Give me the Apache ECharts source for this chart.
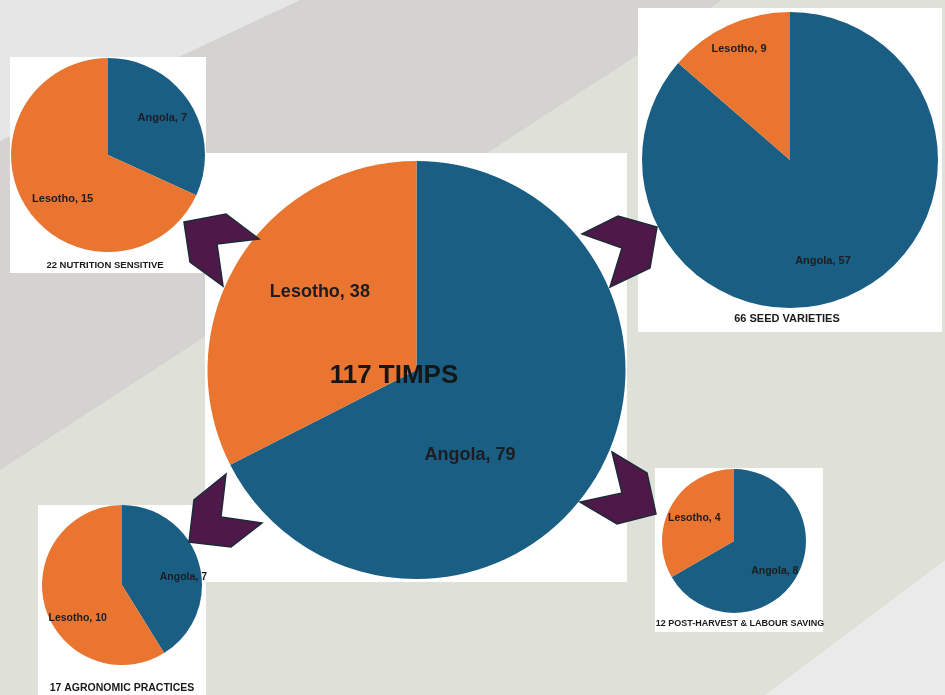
<!DOCTYPE html>
<html>
<head>
<meta charset="utf-8">
<script src="https://cdn.jsdelivr.net/npm/echarts@6/dist/echarts.min.js"></script>
<style>
html,body{margin:0;padding:0;background:#dfe0d8;}
#chart{width:945px;height:695px;}
</style>
</head>
<body>
<div id="chart"></div>
<script>
// ---- data ----
const categories = ['Angola', 'Lesotho'];
const pieTitles = ['117 TIMPS', '22 NUTRITION SENSITIVE', '66 SEED VARIETIES', '17 AGRONOMIC PRACTICES', '12 POST-HARVEST & LABOUR SAVING'];
const angolaValues = [79, 7, 57, 7, 8];
const lesothoValues = [38, 15, 9, 10, 4];

// ---- layout (positions / styles only) ----
const pieCenters = [[416.5, 370], [108, 155], [790, 160], [122, 585], [734, 541]];
const pieRadii = [209, 97, 148, 80, 72];
const labelSizes = [18, 11, 11, 10.5, 10.5];
const labelShift = [
  [[-38, 29], [-5, -22]],
  [[11, -9], [-2, 16]],
  [[1, 31], [-19, -41]],
  [[20, 4], [-3, 21]],
  [[7, 11], [-6, -3]]
];
const titlePos = [[394, 376], [105, 265], [787, 319], [122, 688], [740, 624]];
const titleSizes = [26, 9.5, 11, 10.5, 9];
const boxes = [[205, 153, 422, 429], [10, 57, 196, 216], [638, 8, 304, 324], [38, 505, 168, 190], [655, 468, 168, 164]];
const chevrons = [
  [[184, 222], [226, 214], [259, 239], [217, 244], [223, 286], [190, 262]],
  [[582, 234], [618, 216], [657, 227], [650, 268], [610, 287], [622, 248]],
  [[226, 474], [194, 500], [189, 542], [231, 547], [262, 523], [221, 517]],
  [[612, 452], [647, 473], [656, 514], [617, 524], [580, 502], [622, 493]]
];
const colors = ['#1a5f83', '#ea7531'];

const chart = echarts.init(document.getElementById('chart'), null, {renderer: 'canvas'});

const graphics = [
  {type: 'rect', shape: {x: 0, y: 0, width: 945, height: 695}, style: {fill: '#dfe0d8'}, z: 0, silent: true},
  {type: 'polygon', shape: {points: [[0, 0], [722, 0], [0, 470]]}, style: {fill: '#d4d3d1'}, z: 0, silent: true},
  {type: 'polygon', shape: {points: [[0, 0], [300, 0], [0, 141]]}, style: {fill: '#e6e6e6'}, z: 0, silent: true},
  {type: 'polygon', shape: {points: [[945, 560], [945, 695], [765, 695]]}, style: {fill: '#eaeaea'}, z: 0, silent: true}
];
boxes.forEach(b => graphics.push({type: 'rect', shape: {x: b[0], y: b[1], width: b[2], height: b[3]}, style: {fill: '#ffffff'}, z: 1, silent: true}));
chevrons.forEach(p => graphics.push({type: 'polygon', shape: {points: p}, style: {fill: '#4e1848', stroke: '#1d2a38', lineWidth: 1.5}, z: 10, silent: true}));
pieTitles.forEach((t, i) => graphics.push({
  type: 'text', x: titlePos[i][0], y: titlePos[i][1], z: 11, silent: true,
  style: {text: t, fill: i === 0 ? '#161616' : '#1a1a1a', font: 'bold ' + titleSizes[i] + 'px "Liberation Sans", Arial, sans-serif', textAlign: 'center', textVerticalAlign: 'middle'}
}));

const series = pieTitles.map((t, i) => ({
  type: 'pie',
  name: t,
  center: pieCenters[i],
  radius: [0, pieRadii[i]],
  startAngle: 90,
  clockwise: true,
  avoidLabelOverlap: false,
  animation: false,
  silent: true,
  z: 2,
  label: {
    show: true,
    position: 'inside',
    formatter: '{b}, {c}',
    color: '#1c1c22',
    fontWeight: 'bold',
    fontFamily: '"Liberation Sans", Arial, sans-serif',
    fontSize: labelSizes[i]
  },
  labelLine: {show: false},
  labelLayout: function (p) { const s = labelShift[i][p.dataIndex]; return {dx: s[0], dy: s[1]}; },
  itemStyle: {borderWidth: 0},
  data: categories.map((c, k) => ({
    name: c,
    value: k === 0 ? angolaValues[i] : lesothoValues[i],
    itemStyle: {color: colors[k]}
  }))
}));

chart.setOption({
  animation: false,
  backgroundColor: '#dfe0d8',
  graphic: {elements: graphics},
  series: series
});
</script>
</body>
</html>
